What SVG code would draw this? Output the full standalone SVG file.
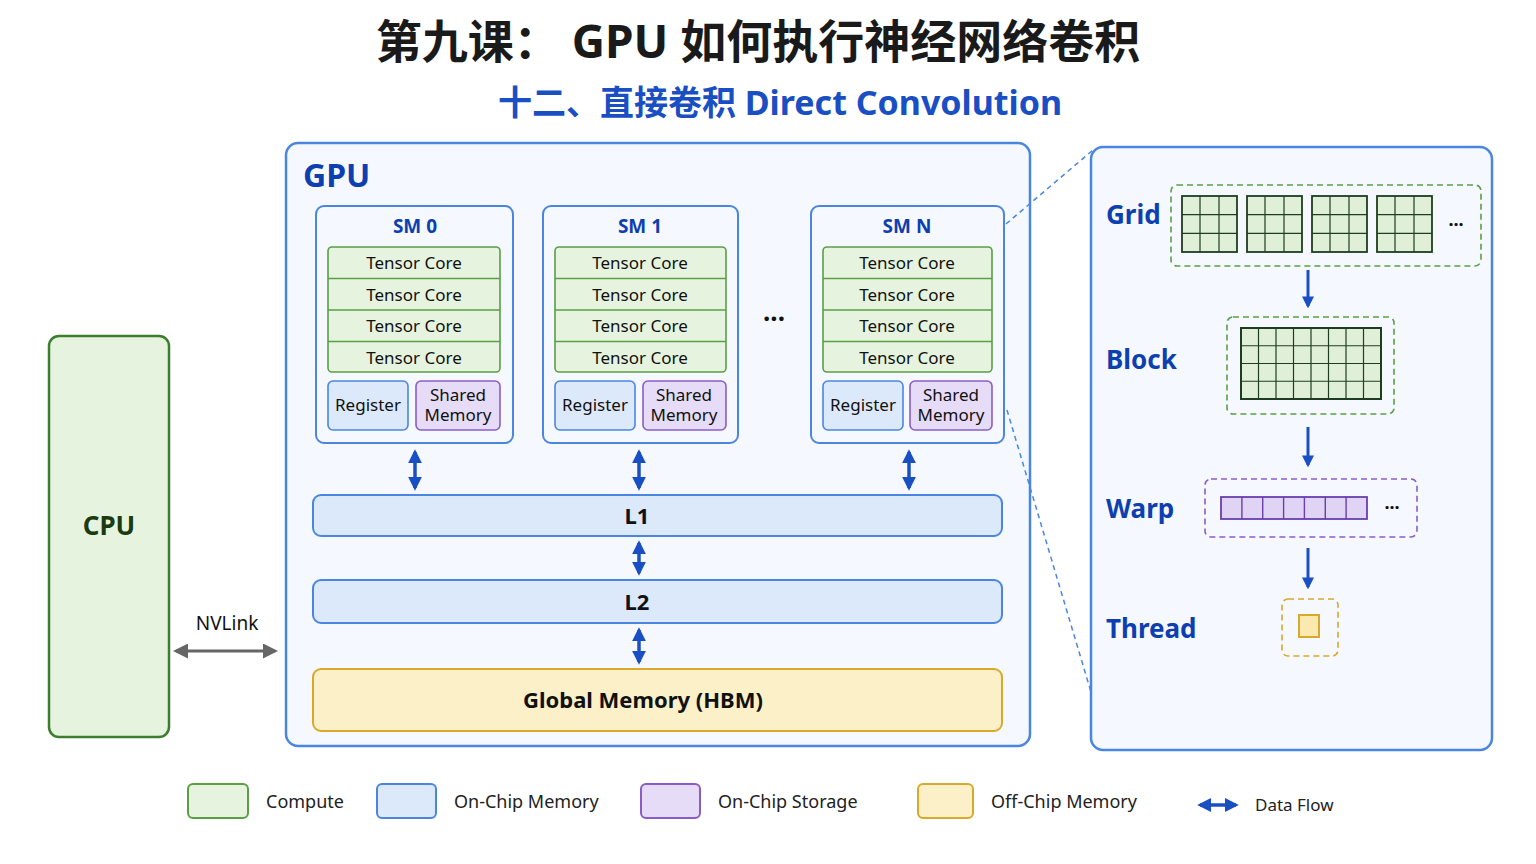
<svg xmlns="http://www.w3.org/2000/svg" width="1536" height="864" viewBox="0 0 1536 864">
<defs>
<marker id="ah" viewBox="0 0 10 10" refX="8" refY="5" markerWidth="4" markerHeight="4" orient="auto-start-reverse"><path d="M0,0L10,5L0,10z" fill="#1a4fc4"/></marker>
<marker id="ahg" viewBox="0 0 10 10" refX="8" refY="5" markerWidth="5" markerHeight="5" orient="auto-start-reverse"><path d="M0,0L10,5L0,10z" fill="#666"/></marker>
<pattern id="g3" width="18.33" height="18.67" patternUnits="userSpaceOnUse"><path d="M18.33,0V18.67M0,18.67H18.33" stroke="#1e3d1e" stroke-width="1.2" fill="none"/></pattern>
</defs>
<style>
text{font-family:"Noto Sans","Noto Sans CJK SC",sans-serif}
.t{font-size:17px;fill:#111;text-anchor:middle}
.sm{fill:#f5f9ff;stroke:#4a86e0;stroke-width:2}
.tc{fill:#e6f4df;stroke:#5a9e45;stroke-width:1.6}
.reg{fill:#dce9fb;stroke:#4a86e0;stroke-width:1.6}
.shm{fill:#e6dcf7;stroke:#8a5cc8;stroke-width:1.6}
.mem{fill:#dce9fb;stroke:#4a86e0;stroke-width:2}
.blu{fill:#0d3fb0;font-weight:bold}
.flow{stroke:#1a4fc4;stroke-width:3.5;fill:none;marker-start:url(#ah);marker-end:url(#ah)}
.down{stroke:#1a4fc4;stroke-width:3;fill:none;marker-end:url(#ah)}
</style>
<rect width="1536" height="864" fill="#fff"/>
<text x="758" y="58" font-size="46" font-weight="bold" text-anchor="middle" fill="#1a1a1a">第九课： GPU 如何执行神经网络卷积</text>
<text x="780" y="115" font-size="34" font-weight="bold" text-anchor="middle" fill="#1a4fc4">十二、直接卷积 Direct Convolution</text>

<g id="cpu"><rect x="49" y="336" width="120" height="401" rx="10" fill="#e6f4df" stroke="#3d7d2e" stroke-width="2.5"/><text x="109" y="535" font-size="26" font-weight="bold" text-anchor="middle" fill="#1b3a12">CPU</text></g>

<g id="gpu"><rect x="286" y="143" width="744" height="603" rx="12" fill="#f5f9ff" stroke="#4a86e0" stroke-width="2.5"/><text x="303" y="187" font-size="32" class="blu">GPU</text></g>

<g id="sm0"><rect class="sm" x="316" y="206" width="197" height="237" rx="8"/><text x="415" y="233" font-size="19" text-anchor="middle" class="blu">SM 0</text>
<rect class="tc" x="328" y="247" width="172" height="125" rx="4"/><path d="M328,278.5H500M328,310H500M328,341.5H500" stroke="#5a9e45" stroke-width="1.6"/>
<text class="t" x="414" y="269">Tensor Core</text><text class="t" x="414" y="301">Tensor Core</text><text class="t" x="414" y="332">Tensor Core</text><text class="t" x="414" y="364">Tensor Core</text>
<rect class="reg" x="328" y="381" width="80" height="49" rx="5"/><text class="t" x="368" y="411" font-size="16">Register</text>
<rect class="shm" x="416" y="381" width="84" height="49" rx="5"/><text class="t" x="458" y="401" font-size="16">Shared</text><text class="t" x="458" y="421" font-size="16">Memory</text></g>

<g id="sm1"><rect class="sm" x="543" y="206" width="195" height="237" rx="8"/><text x="640" y="233" font-size="19" text-anchor="middle" class="blu">SM 1</text>
<rect class="tc" x="555" y="247" width="171" height="125" rx="4"/><path d="M555,278.5H726M555,310H726M555,341.5H726" stroke="#5a9e45" stroke-width="1.6"/>
<text class="t" x="640" y="269">Tensor Core</text><text class="t" x="640" y="301">Tensor Core</text><text class="t" x="640" y="332">Tensor Core</text><text class="t" x="640" y="364">Tensor Core</text>
<rect class="reg" x="555" y="381" width="80" height="49" rx="5"/><text class="t" x="595" y="411" font-size="16">Register</text>
<rect class="shm" x="643" y="381" width="83" height="49" rx="5"/><text class="t" x="684" y="401" font-size="16">Shared</text><text class="t" x="684" y="421" font-size="16">Memory</text></g>

<text x="774" y="328" font-size="26" font-weight="bold" text-anchor="middle" fill="#111">···</text>

<g id="smn"><rect class="sm" x="811" y="206" width="193" height="237" rx="8"/><text x="907" y="233" font-size="19" text-anchor="middle" class="blu">SM N</text>
<rect class="tc" x="823" y="247" width="169" height="125" rx="4"/><path d="M823,278.5H992M823,310H992M823,341.5H992" stroke="#5a9e45" stroke-width="1.6"/>
<text class="t" x="907" y="269">Tensor Core</text><text class="t" x="907" y="301">Tensor Core</text><text class="t" x="907" y="332">Tensor Core</text><text class="t" x="907" y="364">Tensor Core</text>
<rect class="reg" x="823" y="381" width="80" height="49" rx="5"/><text class="t" x="863" y="411" font-size="16">Register</text>
<rect class="shm" x="910" y="381" width="82" height="49" rx="5"/><text class="t" x="951" y="401" font-size="16">Shared</text><text class="t" x="951" y="421" font-size="16">Memory</text></g>

<g id="l1"><rect class="mem" x="313" y="495" width="689" height="41" rx="8"/><text x="637" y="524" font-size="22" font-weight="bold" text-anchor="middle" fill="#111">L1</text></g>
<g id="l2"><rect class="mem" x="313" y="580" width="689" height="43" rx="8"/><text x="637" y="610" font-size="22" font-weight="bold" text-anchor="middle" fill="#111">L2</text></g>
<g id="hbm"><rect x="313" y="669" width="689" height="62" rx="8" fill="#fbf0c8" stroke="#d8a92a" stroke-width="2"/><text x="643" y="708" font-size="22" font-weight="bold" text-anchor="middle" fill="#111">Global Memory (HBM)</text></g>

<g id="panel"><rect x="1091" y="147" width="401" height="603" rx="12" fill="#f5f9ff" stroke="#4a86e0" stroke-width="2.5"/>
<text x="1106" y="224" font-size="26" class="blu">Grid</text>
<text x="1106" y="369" font-size="26" class="blu">Block</text>
<text x="1106" y="518" font-size="26" class="blu">Warp</text>
<text x="1106" y="638" font-size="26" class="blu">Thread</text>
<rect x="1171" y="185" width="310" height="81" rx="6" fill="none" stroke="#5a9e45" stroke-width="1.6" stroke-dasharray="6,4"/>
<g fill="#e0f0d8" stroke="#1e3d1e" stroke-width="1.8">
<rect x="1182" y="196" width="55" height="56"/><rect x="1247" y="196" width="55" height="56"/><rect x="1312" y="196" width="55" height="56"/><rect x="1377" y="196" width="55" height="56"/></g>
<g stroke="#1e3d1e" stroke-width="1.2">
<path d="M1200,196V252M1219,196V252M1182,214.7H1237M1182,233.3H1237"/>
<path d="M1265,196V252M1284,196V252M1247,214.7H1302M1247,233.3H1302"/>
<path d="M1330,196V252M1349,196V252M1312,214.7H1367M1312,233.3H1367"/>
<path d="M1395,196V252M1414,196V252M1377,214.7H1432M1377,233.3H1432"/></g>
<text x="1456" y="231" font-size="18" font-weight="bold" text-anchor="middle" fill="#111">···</text>
<rect x="1227" y="317" width="167" height="97" rx="6" fill="none" stroke="#5a9e45" stroke-width="1.6" stroke-dasharray="6,4"/>
<rect x="1241" y="328" width="140" height="71" fill="#e0f0d8" stroke="#1e3d1e" stroke-width="2"/>
<path d="M1258.5,328V399M1276,328V399M1293.5,328V399M1311,328V399M1328.5,328V399M1346,328V399M1363.5,328V399M1241,345.75H1381M1241,363.5H1381M1241,381.25H1381" stroke="#1e3d1e" stroke-width="1.2"/>
<rect x="1205" y="479" width="212" height="58" rx="6" fill="none" stroke="#8a5cc8" stroke-width="1.6" stroke-dasharray="6,4"/>
<rect x="1221" y="497" width="146" height="22" fill="#e0d4f5" stroke="#6a3db0" stroke-width="1.8"/>
<path d="M1241.9,497V519M1262.7,497V519M1283.6,497V519M1304.4,497V519M1325.3,497V519M1346.1,497V519" stroke="#6a3db0" stroke-width="1.4"/>
<text x="1392" y="514" font-size="18" font-weight="bold" text-anchor="middle" fill="#111">···</text>
<rect x="1282" y="599" width="56" height="57" rx="6" fill="none" stroke="#d8a92a" stroke-width="1.6" stroke-dasharray="6,4"/>
<rect x="1299" y="615" width="20" height="22" fill="#fbe9b0" stroke="#d8a92a" stroke-width="2"/>
</g>

<g id="connectors">
<path class="flow" d="M415,452V488"/><path class="flow" d="M639,452V488"/><path class="flow" d="M909,452V488"/>
<path class="flow" d="M639,543V573"/><path class="flow" d="M639,630V662"/>
<path d="M176,651H275" stroke="#666" stroke-width="3" marker-start="url(#ahg)" marker-end="url(#ahg)"/>
<text x="227" y="630" font-size="19" text-anchor="middle" fill="#111">NVLink</text>
<path class="down" d="M1308,270V306"/><path class="down" d="M1308,427V465"/><path class="down" d="M1308,548V587"/>
<path d="M1006,224L1093,150M1007,410L1091,692" stroke="#4a86e0" stroke-width="1.5" stroke-dasharray="5,4" fill="none"/>
</g>

<g id="legend">
<rect x="188" y="784" width="60" height="34" rx="5" fill="#e6f4df" stroke="#5a9e45" stroke-width="2"/><text x="266" y="808" font-size="18" fill="#222">Compute</text>
<rect x="377" y="784" width="59" height="34" rx="5" fill="#dce9fb" stroke="#4a86e0" stroke-width="2"/><text x="454" y="808" font-size="18" fill="#222">On-Chip Memory</text>
<rect x="641" y="784" width="59" height="34" rx="5" fill="#e6dcf7" stroke="#8a5cc8" stroke-width="2"/><text x="718" y="808" font-size="18" fill="#222">On-Chip Storage</text>
<rect x="918" y="784" width="55" height="34" rx="5" fill="#fbf0c8" stroke="#d8a92a" stroke-width="2"/><text x="991" y="808" font-size="18" fill="#222">Off-Chip Memory</text>
<path class="flow" d="M1200,805H1236"/><text x="1255" y="811" font-size="17" fill="#222">Data Flow</text>
</g>
</svg>
